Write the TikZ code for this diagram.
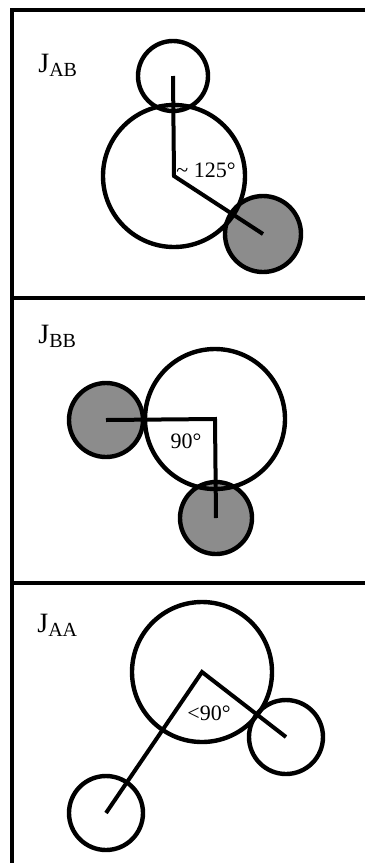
\documentclass[tikz,border=0pt]{standalone}
\usepackage{fontspec}
\setmainfont{Liberation Serif}
\newcommand{\jlabel}[1]{J\raisebox{-0.32ex}{\fontsize{10}{12}\selectfont #1}}
\begin{document}
\begin{tikzpicture}[x=0.5pt,y=-0.5pt,
  ring/.style={line width=2.2pt},
  shade/.style={fill=black!45},
  arm/.style={line width=2pt, line join=miter},
  frame/.style={line width=1.6pt},
  lbl/.style={font=\fontsize{14}{16}\selectfont, anchor=base west, inner sep=0pt},
  ang/.style={font=\fontsize{11}{13}\selectfont, inner sep=0pt}]
\useasboundingbox (0,0) rectangle (365,863);
% frame
\coordinate (ftl) at (12,10); \coordinate (ftr) at (365,10);
\coordinate (fbl) at (12,863);
\coordinate (d1l) at (12,298); \coordinate (d1r) at (365,298);
\coordinate (d2l) at (12,583); \coordinate (d2r) at (365,583);
\draw[frame] (ftr) -- (ftl) -- (fbl);
\draw[frame] (d1l) -- (d1r);
\draw[frame] (d2l) -- (d2r);

% ---------- panel J_AB ----------
\coordinate (abT) at (173,76);
\coordinate (abC) at (174,176);
\coordinate (abS) at (263,234);
\fill[shade] (abS) circle[radius=38];
\draw[ring] (abT) circle[radius=35];
\draw[ring] (abC) circle[radius=71];
\draw[ring] (abS) circle[radius=38];
\draw[arm] (abT) -- (abC) -- (abS);
\node[lbl] (labAB) at (38,72) {\jlabel{AB}};
\node[ang, anchor=west] (angAB) at (176,170) {\textasciitilde\ 125°};

% ---------- panel J_BB ----------
\coordinate (bbC) at (215,419);
\coordinate (bbL) at (106,420);
\coordinate (bbD) at (216,518);
\fill[shade] (bbL) circle[radius=37];
\fill[shade] (bbD) circle[radius=36];
\draw[ring] (bbC) circle[radius=70];
\draw[ring] (bbL) circle[radius=37];
\draw[ring] (bbD) circle[radius=36];
\draw[arm] (bbL) -- (bbC) -- (bbD);
\node[lbl] (labBB) at (38,343) {\jlabel{BB}};
\node[ang] (angBB) at (186,441) {90°};

% ---------- panel J_AA ----------
\coordinate (aaC) at (202,672);
\coordinate (aaR) at (286,737);
\coordinate (aaL) at (106,813);
\draw[ring] (aaC) circle[radius=70];
\draw[ring] (aaR) circle[radius=37];
\draw[ring] (aaL) circle[radius=37];
\draw[arm] (aaL) -- (aaC) -- (aaR);
\node[lbl] (labAA) at (37,632) {\jlabel{AA}};
\node[ang] (angAA) at (209,713) {<90°};
\end{tikzpicture}
\end{document}
